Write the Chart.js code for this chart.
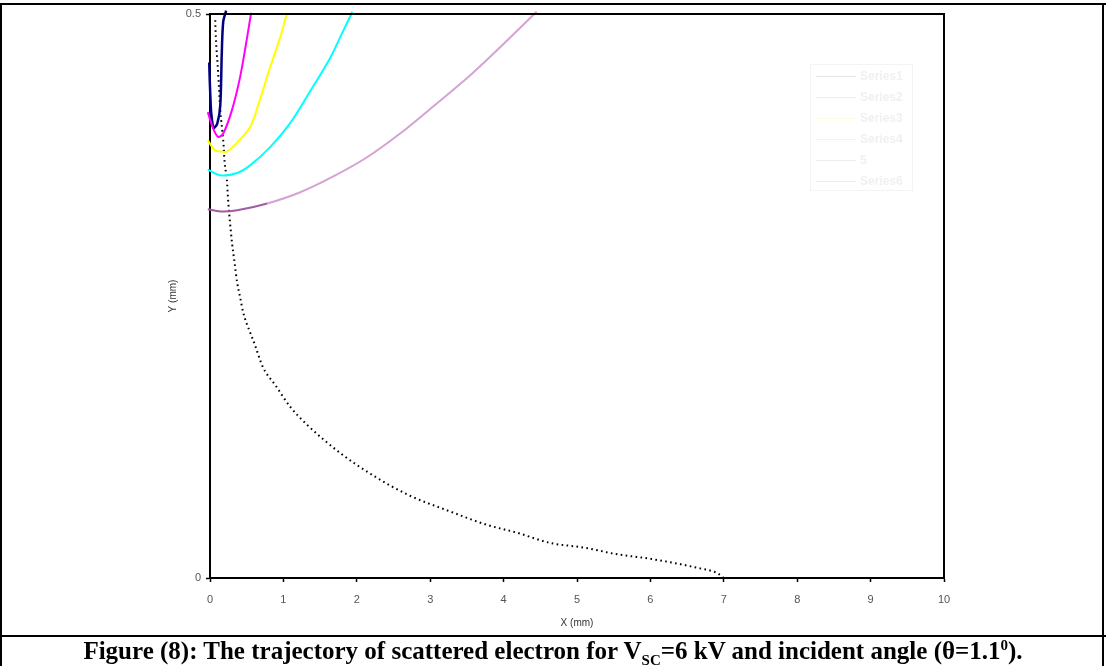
<!DOCTYPE html>
<html>
<head>
<meta charset="utf-8">
<script src="https://cdn.jsdelivr.net/npm/chart.js@4.4.1/dist/chart.umd.min.js"></script>
<style>
    html, body { margin: 0; padding: 0; background: #fff; }
    .page { position: relative; width: 1106px; height: 666px; overflow: hidden; }
    .frame-top { position: absolute; left: 0; top: 3px; width: 1106px; height: 2px; background: #000; }
    .frame-left { position: absolute; left: 0; top: 3px; width: 2px; height: 663px; background: #000; }
    .frame-right { position: absolute; left: 1102px; top: 3px; width: 2px; height: 663px; background: #000; }
    .frame-mid { position: absolute; left: 0; top: 635px; width: 1106px; height: 2px; background: #000; }
    .chart-box { position: absolute; left: 0; top: 0; width: 1106px; height: 636px; }
    .legend { position: absolute; left: 810px; top: 64px; width: 101px; height: 125px;
              border: 1px solid #f3f3f3; font: bold 12px Arial, 'Liberation Sans', sans-serif; color: #f0f0f0; }
    .legend div { position: absolute; left: 5px; height: 14px; line-height: 14px; }
    .legend span { display: inline-block; width: 40px; height: 0; border-top: 1px solid; vertical-align: middle; margin-right: 4px; }
    .caption { position: absolute; left: 0; top: 636px; width: 1106px; text-align: center;
               font: bold 25px 'Liberation Serif', 'Times New Roman', serif; color: #000; line-height: 30px; }
    .caption sub, .caption sup { font-size: 15px; line-height: 0; }
</style>
</head>
<body>
<div class="page">
    <div class="chart-box"><canvas id="trajChart"></canvas></div>
    <div class="legend" id="legend"></div>
    <div class="frame-top"></div>
    <div class="frame-left"></div>
    <div class="frame-right"></div>
    <div class="frame-mid"></div>
    <div class="caption">Figure (8): The trajectory of scattered electron for V<sub>SC</sub>=6 kV and incident angle (θ=1.1<sup>0</sup>).</div>
</div>
<script>
// scattered electron trajectory (dotted)
const trajX = [7.0, 6.92, 6.64, 6.0, 5.55, 5.09, 4.64, 4.19, 3.78, 3.27, 2.69, 2.22, 1.77, 1.32, 1.09, 0.89, 0.72, 0.61, 0.55, 0.45, 0.41, 0.37, 0.33, 0.30, 0.27, 0.25, 0.23, 0.20, 0.18, 0.14, 0.11, 0.08, 0.07];
const trajY = [0, 0.004, 0.009, 0.017, 0.021, 0.027, 0.031, 0.040, 0.047, 0.059, 0.074, 0.091, 0.111, 0.136, 0.152, 0.171, 0.187, 0.207, 0.217, 0.236, 0.249, 0.262, 0.282, 0.297, 0.317, 0.332, 0.353, 0.368, 0.388, 0.415, 0.449, 0.479, 0.497];

// magenta
const magX = [-0.03, 0.04, 0.11, 0.18, 0.30, 0.41, 0.50, 0.56];
const magY = [0.413, 0.399, 0.391, 0.394, 0.415, 0.444, 0.477, 0.501];

// yellow
const yelX = [-0.03, 0.07, 0.16, 0.23, 0.37, 0.55, 0.68, 0.82, 0.96, 1.05];
const yelY = [0.388, 0.379, 0.378, 0.378, 0.386, 0.400, 0.424, 0.453, 0.480, 0.501];

// cyan
const cyaX = [-0.03, 0.14, 0.37, 0.55, 0.82, 1.09, 1.35, 1.62, 1.80, 1.94];
const cyaY = [0.362, 0.357, 0.359, 0.366, 0.382, 0.403, 0.430, 0.459, 0.483, 0.502];

// navy (narrow loop)
const navX = [-0.01, -0.01, 0.01, 0.02, 0.05, 0.10, 0.14, 0.16, 0.18, 0.22];
const navY = [0.503, 0.457, 0.419, 0.410, 0.399, 0.403, 0.419, 0.464, 0.493, 0.503];

// purple
const purX = [-0.03, 0.14, 0.37, 0.78, 1.23, 1.68, 2.14, 2.59, 3.04, 3.55, 3.96, 4.45];
const purY = [0.327, 0.325, 0.326, 0.332, 0.342, 0.356, 0.373, 0.394, 0.418, 0.446, 0.471, 0.502];

const xTicks = [0, 1, 2, 3, 4, 5, 6, 7, 8, 9, 10];
const yTicks = [0, 0.5];

const legendNames = ['Series1', 'Series2', 'Series3', 'Series4', '5', 'Series6'];
const legendColors = ['#e6e6e6', '#fbe2fb', '#fdfde2', '#e4f8f8', '#ececec', '#ededed'];

function zip(xs, ys) {
    return xs.map((x, i) => ({ x: x, y: ys[i] }));
}

document.addEventListener('DOMContentLoaded', function() {
    // faint legend, as in the original
    const legend = document.getElementById('legend');
    legendNames.forEach((name, i) => {
        const row = document.createElement('div');
        row.style.top = (4 + i * 21) + 'px';
        row.innerHTML = '<span style="border-color:' + legendColors[i] + '"></span>' + name;
        legend.appendChild(row);
    });

    // black frame on top and right of plot area
    const plotFrame = {
        id: 'plotFrame',
        afterDatasetsDraw(chart) {
            const { ctx, chartArea } = chart;
            ctx.save();
            ctx.strokeStyle = '#000';
            ctx.lineWidth = 2;
            ctx.beginPath();
            ctx.moveTo(chartArea.left, chartArea.top);
            ctx.lineTo(chartArea.right, chartArea.top);
            ctx.lineTo(chartArea.right, chartArea.bottom);
            ctx.stroke();
            ctx.restore();
        }
    };

    const ctx = document.getElementById('trajChart').getContext('2d');
    new Chart(ctx, {
        type: 'scatter',
        data: {
            datasets: [{
                label: 'Series6',
                data: zip(purX, purY),
                borderColor: '#d4a2d4',
                borderWidth: 2,
                segment: {
                    borderColor: c => c.p0.parsed.x < 0.4 ? '#a05ca0' : undefined
                }
            }, {
                label: 'Series4',
                data: zip(cyaX, cyaY),
                borderColor: '#00ffff',
                borderWidth: 2
            }, {
                label: 'Series3',
                data: zip(yelX, yelY),
                borderColor: '#ffff00',
                borderWidth: 2
            }, {
                label: 'Series2',
                data: zip(magX, magY),
                borderColor: '#ff00ff',
                borderWidth: 2
            }, {
                label: '5',
                data: zip(navX, navY),
                borderColor: '#000080',
                borderWidth: 2.5
            }, {
                label: 'Series1',
                data: zip(trajX, trajY),
                borderColor: '#000',
                borderWidth: 2,
                borderDash: [1.6, 3.4],
                cubicInterpolationMode: 'monotone'
            }]
        },
        options: {
            responsive: true,
            maintainAspectRatio: false,
            animation: false,
            showLine: true,
            elements: {
                point: { radius: 0, hoverRadius: 0 },
                line: { tension: 0.3, fill: false }
            },
            datasets: { scatter: { clip: 4 } },
            layout: { padding: { left: 163, right: 162, top: 14, bottom: 0 } },
            plugins: {
                legend: { display: false },
                tooltip: { enabled: false }
            },
            scales: {
                x: {
                    type: 'linear',
                    min: 0,
                    max: 10,
                    afterBuildTicks: function(scale) {
                        scale.ticks = xTicks.map(v => ({ value: v }));
                    },
                    afterFit: function(scale) { scale.height = 58; },
                    border: { display: true, color: '#000', width: 2 },
                    grid: { display: true, drawOnChartArea: false, drawTicks: true, tickLength: 4, color: '#000', tickWidth: 1.5 },
                    ticks: { color: '#555', font: { family: 'Arial', size: 11 }, padding: 11, maxRotation: 0 },
                    title: { display: true, text: 'X (mm)', color: '#333', font: { family: 'Arial', size: 10 }, padding: { top: 2, bottom: 7 } }
                },
                y: {
                    type: 'linear',
                    min: 0,
                    max: 0.5,
                    afterBuildTicks: function(scale) {
                        scale.ticks = yTicks.map(v => ({ value: v }));
                    },
                    afterFit: function(scale) { scale.width = 47; },
                    border: { display: true, color: '#000', width: 2 },
                    grid: { display: true, drawOnChartArea: false, drawTicks: true, tickLength: 4, color: '#000', tickWidth: 1.5 },
                    ticks: { color: '#555', font: { family: 'Arial', size: 11 }, padding: 5 },
                    title: { display: true, text: 'Y (mm)', color: '#333', font: { family: 'Arial', size: 10 }, padding: 4 }
                }
            }
        },
        plugins: [plotFrame]
    });
});
</script>
</body>
</html>
